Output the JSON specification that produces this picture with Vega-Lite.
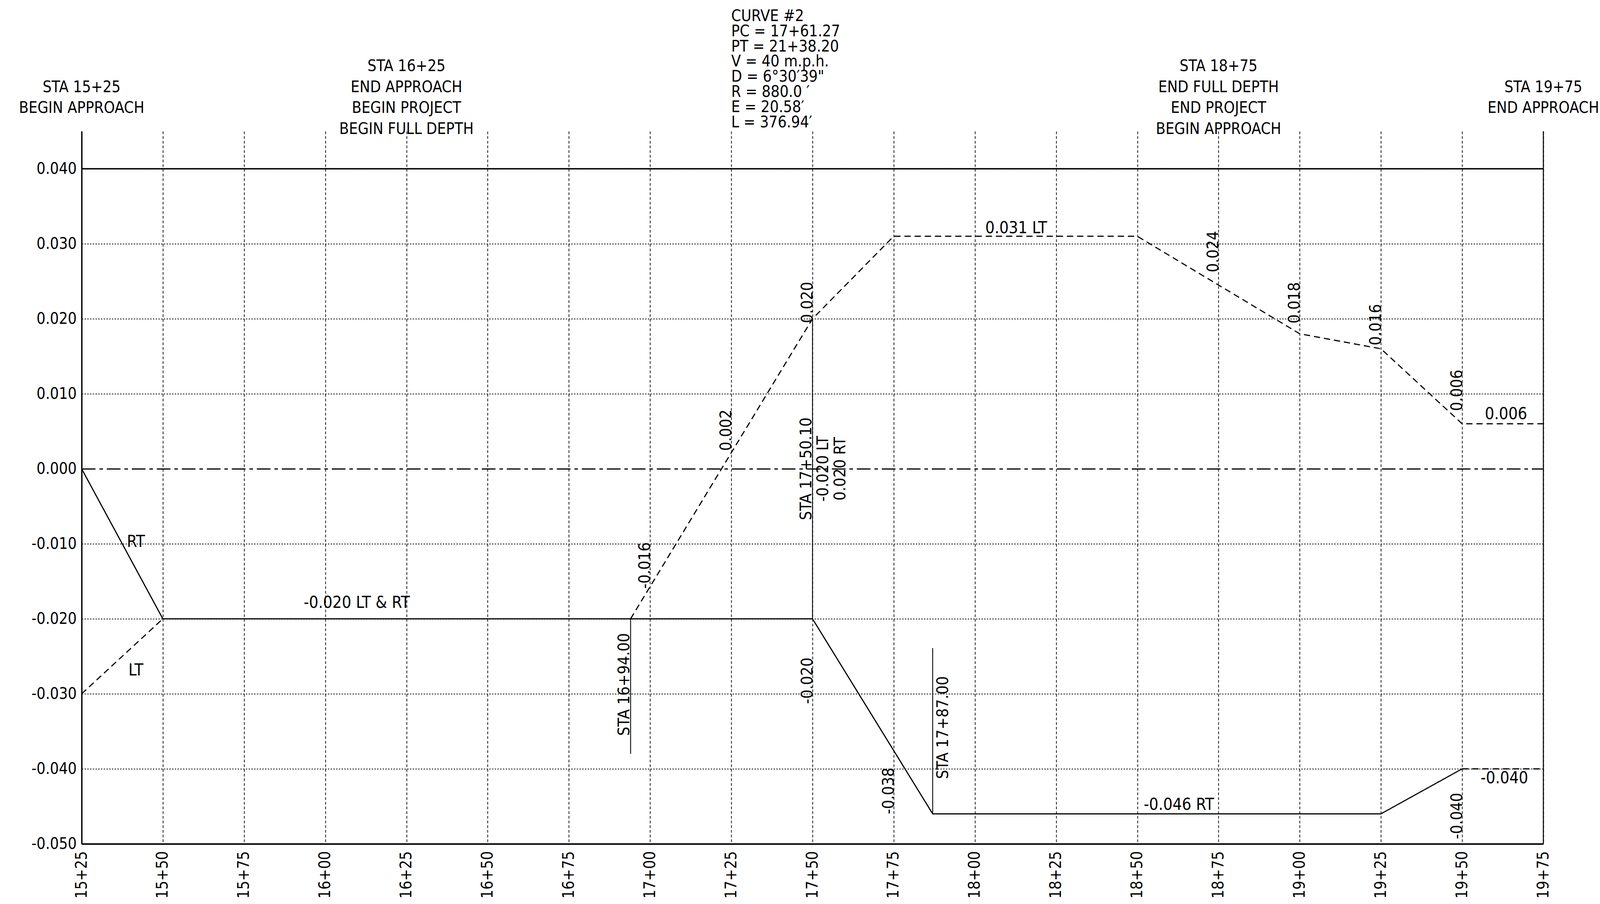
{
  "$schema": "https://vega.github.io/schema/vega-lite/v6.json",
  "autosize": "none",
  "width": 3742,
  "height": 1824,
  "padding": {"left": 209, "top": 336, "right": 149, "bottom": 154},
  "background": "white",
  "config": {
    "view": {"stroke": null},
    "font": "DejaVu Sans Condensed, Liberation Sans Narrow, DejaVu Sans",
    "axis": {"labelFont": "DejaVu Sans Condensed, Liberation Sans Narrow, DejaVu Sans", "labelColor": "black", "domainColor": "black", "gridColor": "black", "gridOpacity": 1}
  },
  "data": {"values": [{}]},
  "datasets": {
    "profile": [
      {"segment": "LT-1", "side": "LT", "station": 1525, "slope": -0.030},
      {"segment": "LT-1", "side": "LT", "station": 1550, "slope": -0.020},
      {"segment": "LT-2", "side": "LT", "station": 1694, "slope": -0.020},
      {"segment": "LT-2", "side": "LT", "station": 1750, "slope": 0.020},
      {"segment": "LT-2", "side": "LT", "station": 1775, "slope": 0.031},
      {"segment": "LT-2", "side": "LT", "station": 1850, "slope": 0.031},
      {"segment": "LT-2", "side": "LT", "station": 1900, "slope": 0.018},
      {"segment": "LT-2", "side": "LT", "station": 1925, "slope": 0.016},
      {"segment": "LT-2", "side": "LT", "station": 1950, "slope": 0.006},
      {"segment": "LT-2", "side": "LT", "station": 1975, "slope": 0.006},
      {"segment": "RT-1", "side": "RT", "station": 1525, "slope": 0.000},
      {"segment": "RT-1", "side": "RT", "station": 1550, "slope": -0.020},
      {"segment": "RT-1", "side": "RT", "station": 1750, "slope": -0.020},
      {"segment": "RT-1", "side": "RT", "station": 1787, "slope": -0.046},
      {"segment": "RT-1", "side": "RT", "station": 1925, "slope": -0.046},
      {"segment": "RT-1", "side": "RT", "station": 1950, "slope": -0.040},
      {"segment": "RT-2", "side": "RT", "station": 1950, "slope": -0.040},
      {"segment": "RT-2", "side": "RT", "station": 1975, "slope": -0.040}
    ],
    "markers": [
      {"station": 1750, "from": -0.020, "to": 0.020},
      {"station": 1694, "from": -0.020, "to": -0.038},
      {"station": 1787, "from": -0.0239, "to": -0.046}
    ],
    "headers": [
      {"station": 1525, "label": "\nSTA 15+25\nBEGIN APPROACH"},
      {"station": 1625, "label": "STA 16+25\nEND APPROACH\nBEGIN PROJECT\nBEGIN FULL DEPTH"},
      {"station": 1875, "label": "STA 18+75\nEND FULL DEPTH\nEND PROJECT\nBEGIN APPROACH"},
      {"station": 1975, "label": "\nSTA 19+75\nEND APPROACH"}
    ],
    "curve": [
      {"station": 1725, "label": "CURVE #2\nPC = 17+61.27\nPT = 21+38.20\nV = 40 m.p.h.\nD = 6°30′39\"\nR = 880.0 ′\nE = 20.58′\nL = 376.94′"}
    ],
    "hlabels": [
      {"station": 1609.7, "slope": -0.01854, "label": "-0.020 LT & RT"},
      {"station": 1541.7, "slope": -0.0104, "label": "RT"},
      {"station": 1541.7, "slope": -0.02755, "label": "LT"},
      {"station": 1812.7, "slope": 0.0314, "label": "0.031 LT"},
      {"station": 1862.8, "slope": -0.04547, "label": "-0.046 RT"},
      {"station": 1963.5, "slope": 0.00661, "label": "0.006"},
      {"station": 1963.0, "slope": -0.04193, "label": "-0.040"}
    ],
    "vlabels": [
      {"station": 1750, "slope": 0.01943, "label": "0.020"},
      {"station": 1725, "slope": 0.0024, "label": "0.002"},
      {"station": 1700, "slope": -0.01599, "label": "-0.016"},
      {"station": 1750, "slope": -0.03135, "label": "-0.020"},
      {"station": 1775, "slope": -0.04604, "label": "-0.038"},
      {"station": 1875, "slope": 0.0262, "label": "0.024"},
      {"station": 1900, "slope": 0.01938, "label": "0.018"},
      {"station": 1925, "slope": 0.01646, "label": "0.016"},
      {"station": 1950, "slope": 0.00771, "label": "0.006"},
      {"station": 1950, "slope": -0.04938, "label": "-0.040"}
    ],
    "stationLeft": [
      {"station": 1750, "slope": 0.0, "label": "STA 17+50.10"},
      {"station": 1694, "slope": -0.02875, "label": "STA 16+94.00"}
    ],
    "stationRight": [
      {"station": 1750, "slope": 0.0, "label": "-0.020 LT\n0.020 RT"},
      {"station": 1787, "slope": -0.0345, "label": "STA 17+87.00"}
    ]
  },
  "layer": [
    {
      "data": {"name": "profile"},
      "mark": {"type": "line", "strokeWidth": 2.9, "color": "black", "strokeCap": "butt"},
      "encoding": {
        "x": {
          "field": "station", "type": "quantitative", "title": null,
          "scale": {"domain": [1525, 1975], "nice": false, "zero": false},
          "axis": {
            "values": [1525, 1550, 1575, 1600, 1625, 1650, 1675, 1700, 1725, 1750, 1775, 1800, 1825, 1850, 1875, 1900, 1925, 1950, 1975],
            "labelExpr": "floor(datum.value/100) + '+' + (datum.value % 100 < 10 ? '0' : '') + (datum.value % 100)",
            "labelAngle": 270, "labelFontSize": 40, "labelPadding": 18,
            "labelOverlap": false, "labelFlush": false, "labelBound": false,
            "ticks": false, "domainWidth": 4,
            "grid": true, "gridDash": [7, 5], "gridWidth": 1.8
          }
        },
        "y": {
          "field": "slope", "type": "quantitative", "title": null,
          "scale": {"domain": [-0.05, 0.045], "nice": false, "zero": false},
          "axis": {
            "values": [-0.05, -0.04, -0.03, -0.02, -0.01, 0, 0.01, 0.02, 0.03, 0.04],
            "labelExpr": "replace(format(datum.value, '.3f'), '−', '-')",
            "labelFontSize": 40, "labelPadding": 13, "labelBaseline": "middle",
            "labelOverlap": false, "labelFlush": false, "labelBound": false,
            "ticks": false, "domainWidth": 3.5,
            "grid": true,
            "gridDash": {"condition": {"test": "datum.value == 0", "value": [35, 10, 9, 10]}, "value": [3.5, 3.5]},
            "gridWidth": {"condition": {"test": "datum.value == 0", "value": 3}, "value": 2}
          }
        },
        "detail": {"field": "segment", "type": "nominal"},
        "strokeDash": {
          "field": "segment", "type": "nominal", "legend": null,
          "scale": {"domain": ["LT-1", "LT-2", "RT-1", "RT-2"], "range": [[16, 10], [16, 10], [1, 0], [16, 10]]}
        }
      }
    },
    {
      "mark": {"type": "rule", "strokeWidth": 2.6, "color": "black"},
      "encoding": {"x": {"datum": 1975}, "y": {"datum": -0.05}, "y2": {"datum": 0.045}}
    },
    {
      "mark": {"type": "rule", "strokeWidth": 3.5, "color": "black"},
      "encoding": {"x": {"datum": 1525}, "x2": {"datum": 1975}, "y": {"datum": 0.04}}
    },
    {
      "data": {"name": "markers"},
      "mark": {"type": "rule", "strokeWidth": 2.2, "color": "black"},
      "encoding": {
        "x": {"field": "station", "type": "quantitative"},
        "y": {"field": "from", "type": "quantitative"},
        "y2": {"field": "to"}
      }
    },
    {
      "data": {"name": "headers"},
      "mark": {"type": "text", "fontSize": 40, "align": "center", "baseline": "alphabetic", "lineBreak": "\n", "lineHeight": 53.7, "dy": -154, "color": "black"},
      "encoding": {
        "x": {"field": "station", "type": "quantitative"},
        "y": {"datum": 0.045},
        "text": {"field": "label"}
      }
    },
    {
      "data": {"name": "curve"},
      "mark": {"type": "text", "fontSize": 40, "align": "left", "baseline": "top", "lineBreak": "\n", "lineHeight": 38.8, "dy": -314, "color": "black"},
      "encoding": {
        "x": {"field": "station", "type": "quantitative"},
        "y": {"datum": 0.045},
        "text": {"field": "label"}
      }
    },
    {
      "data": {"name": "hlabels"},
      "mark": {"type": "text", "fontSize": 42, "align": "center", "baseline": "alphabetic", "color": "black"},
      "encoding": {
        "x": {"field": "station", "type": "quantitative"},
        "y": {"field": "slope", "type": "quantitative"},
        "text": {"field": "label"}
      }
    },
    {
      "data": {"name": "vlabels"},
      "mark": {"type": "text", "fontSize": 41, "angle": 270, "align": "left", "baseline": "alphabetic", "color": "black"},
      "encoding": {
        "x": {"field": "station", "type": "quantitative"},
        "y": {"field": "slope", "type": "quantitative"},
        "text": {"field": "label"}
      }
    },
    {
      "data": {"name": "stationLeft"},
      "mark": {"type": "text", "fontSize": 41, "angle": 270, "align": "center", "baseline": "alphabetic", "dy": -3.5, "color": "black"},
      "encoding": {
        "x": {"field": "station", "type": "quantitative"},
        "y": {"field": "slope", "type": "quantitative"},
        "text": {"field": "label"}
      }
    },
    {
      "data": {"name": "stationRight"},
      "mark": {"type": "text", "fontSize": 41, "angle": 270, "align": "center", "baseline": "top", "lineBreak": "\n", "lineHeight": 44.5, "dy": 7.8, "color": "black"},
      "encoding": {
        "x": {"field": "station", "type": "quantitative"},
        "y": {"field": "slope", "type": "quantitative"},
        "text": {"field": "label"}
      }
    }
  ]
}
